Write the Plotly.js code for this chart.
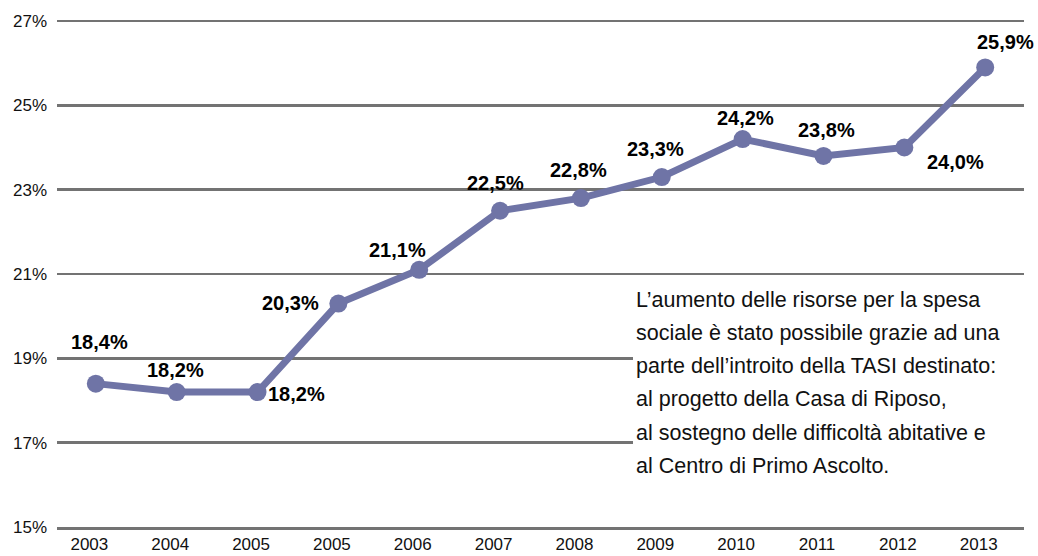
<!DOCTYPE html>
<html>
<head>
<meta charset="utf-8">
<script src="https://cdn.plot.ly/plotly-3.0.1.min.js"></script>
<style>html,body{margin:0;padding:0;background:#fff;}#chart{width:1038px;height:556px;}</style>
</head>
<body>
<div id="chart"></div>
<script>
// Data
var yearLabels = ["2003","2004","2005","2005","2006","2007","2008","2009","2010","2011","2012","2013"];
var values = [18.4, 18.2, 18.2, 20.3, 21.1, 22.5, 22.8, 23.3, 24.2, 23.8, 24.0, 25.9];
var valueLabels = ["18,4%","18,2%","18,2%","20,3%","21,1%","22,5%","22,8%","23,3%","24,2%","23,8%","24,0%","25,9%"];
var yTickVals = [15, 17, 19, 21, 23, 25, 27];
var yTickText = ["15%","17%","19%","21%","23%","25%","27%"];
var noteLines = [
  "L\u2019aumento delle risorse per la spesa",
  "sociale \u00e8 stato possibile grazie ad una",
  "parte dell\u2019introito della TASI destinato:",
  "al progetto della Casa di Riposo,",
  "al sostegno delle difficolt\u00e0 abitative e",
  "al Centro di Primo Ascolto."
];

// layout-only label offsets (pixels)
var labelShift = [[4,-42],[-1,-22],[39,2],[-48,-1],[-22,-20],[-5,-28],[-2,-28],[-6,-28],[3,-21],[3,-26],[51,14],[20,-25]];

var idx = values.map(function(v,i){return i;});
var FONT = "Liberation Sans, Arial, sans-serif";

var annotations = values.map(function(v,i){
  return {x: idx[i], y: v, xref:'x', yref:'y', text: valueLabels[i], showarrow:false,
    xshift: labelShift[i][0], yshift: -labelShift[i][1],
    font:{family:FONT, size:20, color:'#000000', weight:700}};
});
noteLines.forEach(function(t,k){
  annotations.push({xref:'paper', yref:'paper', x:(634-57)/967, y:(527-(301+k*33))/505,
    xanchor:'left', yanchor:'middle', text:t, showarrow:false,
    font:{family:FONT, size:21.5, color:'#111111'}});
});

var trace = {
  x: idx, y: values, type:'scatter', mode:'lines+markers',
  line:{color:'#6f74a6', width:7},
  marker:{color:'#6f74a6', size:18},
  hoverinfo:'none'
};

var layout = {
  width:1038, height:556,
  margin:{l:57, r:14, t:20, b:29},
  paper_bgcolor:'#ffffff', plot_bgcolor:'#ffffff',
  showlegend:false,
  font:{family:FONT, color:'#111111'},
  xaxis:{range:[-0.48, 11.48], tickmode:'array', tickvals: idx.map(function(i){return i-0.08;}), ticktext: yearLabels,
    showgrid:false, zeroline:false, showline:true, linecolor:'#737373', linewidth:2.5, ticks:'',
    tickfont:{size:17, color:'#111111'}, fixedrange:true},
  yaxis:{range:[15,27.024], tickmode:'array', tickvals:yTickVals, ticktext:yTickText,
    showgrid:true, gridcolor:'#737373', gridwidth:2.5, zeroline:false, showline:false, ticks:'',
    ticklabelstandoff:9, tickfont:{size:17, color:'#111111'}, fixedrange:true},
  shapes:[{type:'rect', xref:'paper', yref:'paper', x0:(633-57)/967, x1:1.01, y0:(527-480)/507, y1:(527-287)/507,
    fillcolor:'#ffffff', line:{width:0}, layer:'above'}],
  annotations: annotations
};

Plotly.newPlot('chart', [trace], layout, {displayModeBar:false, staticPlot:true});
</script>
</body>
</html>
